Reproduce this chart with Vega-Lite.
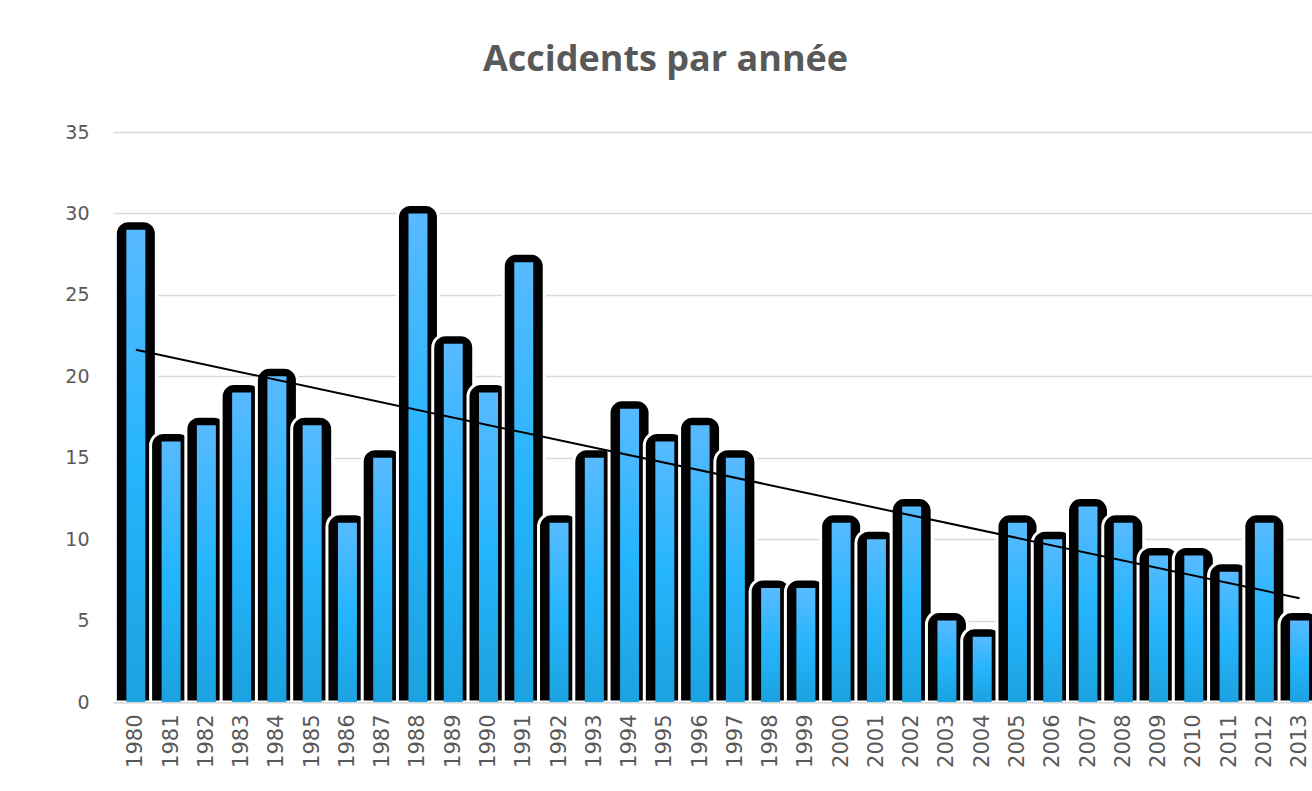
{
  "$schema": "https://vega.github.io/schema/vega-lite/v6.json",
  "width": 1199,
  "height": 570,
  "autosize": {"type": "none"},
  "padding": {"left": 113, "top": 132, "right": 0, "bottom": 89},
  "background": "white",
  "config": {"view": {"stroke": null}},
  "title": {
    "text": "Accidents par année",
    "font": "Open Sans",
    "fontSize": 36,
    "fontWeight": "bold",
    "color": "#595959",
    "anchor": "middle",
    "dx": -47,
    "offset": 44
  },
  "data": {
    "values": [
      {"year": 1980, "accidents": 29},
      {"year": 1981, "accidents": 16},
      {"year": 1982, "accidents": 17},
      {"year": 1983, "accidents": 19},
      {"year": 1984, "accidents": 20},
      {"year": 1985, "accidents": 17},
      {"year": 1986, "accidents": 11},
      {"year": 1987, "accidents": 15},
      {"year": 1988, "accidents": 30},
      {"year": 1989, "accidents": 22},
      {"year": 1990, "accidents": 19},
      {"year": 1991, "accidents": 27},
      {"year": 1992, "accidents": 11},
      {"year": 1993, "accidents": 15},
      {"year": 1994, "accidents": 18},
      {"year": 1995, "accidents": 16},
      {"year": 1996, "accidents": 17},
      {"year": 1997, "accidents": 15},
      {"year": 1998, "accidents": 7},
      {"year": 1999, "accidents": 7},
      {"year": 2000, "accidents": 11},
      {"year": 2001, "accidents": 10},
      {"year": 2002, "accidents": 12},
      {"year": 2003, "accidents": 5},
      {"year": 2004, "accidents": 4},
      {"year": 2005, "accidents": 11},
      {"year": 2006, "accidents": 10},
      {"year": 2007, "accidents": 12},
      {"year": 2008, "accidents": 11},
      {"year": 2009, "accidents": 9},
      {"year": 2010, "accidents": 9},
      {"year": 2011, "accidents": 8},
      {"year": 2012, "accidents": 11},
      {"year": 2013, "accidents": 5}
    ]
  },
  "encoding": {
    "x": {
      "field": "year",
      "type": "quantitative",
      "scale": {"domain": [1979.494, 2013.21], "nice": false, "zero": false},
      "axis": {
        "title": null,
        "values": [1980,1981,1982,1983,1984,1985,1986,1987,1988,1989,1990,1991,1992,1993,1994,1995,1996,1997,1998,1999,2000,2001,2002,2003,2004,2005,2006,2007,2008,2009,2010,2011,2012,2013],
        "format": "d",
        "labelAngle": -90,
        "labelPadding": 12,
        "ticks": false,
        "grid": false,
        "domainColor": "#d9d9d9",
        "domainWidth": 2,
        "labelFont": "DejaVu Sans",
        "labelFontSize": 21,
        "labelColor": "#595959",
        "labelOverlap": false,
        "labelFlush": false,
        "labelBound": false
      }
    }
  },
  "layer": [
    {
      "mark": {
        "type": "bar",
        "size": 41,
        "color": "#000000",
        "stroke": "#ffffff",
        "strokeWidth": 3,
        "cornerRadiusTopLeft": 13,
        "cornerRadiusTopRight": 13,
        "yOffset": -9,
        "clip": true
      },
      "encoding": {
        "y": {
          "field": "accidents",
          "type": "quantitative",
          "stack": null,
          "scale": {"domain": [0, 35], "nice": false},
          "axis": {
            "title": null,
            "values": [0, 5, 10, 15, 20, 25, 30, 35],
            "grid": true,
            "gridColor": "#d9d9d9",
            "gridWidth": 1.5,
            "domain": false,
            "ticks": false,
            "labelPadding": 24,
            "labelFont": "DejaVu Sans",
            "labelFontSize": 19,
            "labelColor": "#595959"
          }
        }
      }
    },
    {
      "mark": {
        "type": "bar",
        "size": 19,
        "clip": true,
        "color": {
          "gradient": "linear",
          "x1": 0, "y1": 0, "x2": 0, "y2": 1,
          "stops": [
            {"offset": 0, "color": "#58baff"},
            {"offset": 0.5, "color": "#25b5fd"},
            {"offset": 1, "color": "#1ba2e0"}
          ]
        }
      },
      "encoding": {
        "y": {"field": "accidents", "type": "quantitative", "stack": null}
      }
    },
    {
      "transform": [{"regression": "accidents", "on": "year"}],
      "mark": {"type": "line", "color": "black", "strokeWidth": 2, "clip": true},
      "encoding": {
        "y": {"field": "accidents", "type": "quantitative"}
      }
    }
  ]
}
